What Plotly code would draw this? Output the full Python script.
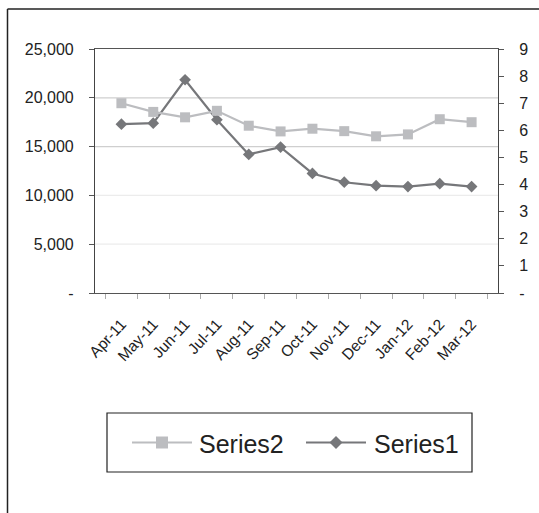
import plotly.graph_objects as go

# Monthly figures, Apr-11 to Mar-12
months = ["Apr-11", "May-11", "Jun-11", "Jul-11", "Aug-11", "Sep-11",
          "Oct-11", "Nov-11", "Dec-11", "Jan-12", "Feb-12", "Mar-12"]
series1 = [17300, 17400, 21850, 17750, 14200, 14950,
           12250, 11350, 11000, 10900, 11200, 10900]
series2 = [7.0, 6.68, 6.48, 6.72, 6.17, 5.96,
           6.06, 5.97, 5.78, 5.85, 6.41, 6.3]

left_ticks = [0, 5000, 10000, 15000, 20000, 25000]
left_labels = ["-", "5,000", "10,000", "15,000", "20,000", "25,000"]
right_ticks = list(range(0, 10))
right_labels = ["-"] + [str(v) for v in range(1, 10)]
grid_colors = {5000: "#ececec", 10000: "#ececec", 15000: "#cfcfcf", 20000: "#cfcfcf"}

c1, c2 = "#76777a", "#bcbdc0"

W, H = 539, 513
ML, MR, MT, MB = 95, 41, 49, 220
pw, ph = W - ML - MR, H - MT - MB


def px(x):
    """page pixel x -> paper x"""
    return (x - ML) / pw


def py(y):
    """page pixel y -> paper y"""
    return (H - MB - y) / ph


font = "Liberation Sans, Arial, sans-serif"

fig = go.Figure()
fig.add_trace(go.Scatter(
    x=months, y=series2, name="Series2", yaxis="y2", mode="lines+markers",
    line=dict(color=c2, width=2.2),
    marker=dict(symbol="square", size=10, color=c2),
))
fig.add_trace(go.Scatter(
    x=months, y=series1, name="Series1", yaxis="y", mode="lines+markers",
    line=dict(color=c1, width=2.2),
    marker=dict(symbol="diamond", size=9, color=c1),
))

# horizontal gridlines on the left scale
for v, c in grid_colors.items():
    fig.add_shape(type="line", xref="paper", yref="y", x0=0, x1=1, y0=v, y1=v,
                  line=dict(color=c, width=1.2), layer="below")

# outer chart frame (left and top edges)
fig.add_shape(type="line", xref="paper", yref="paper", x0=px(7.5), x1=px(7.5),
              y0=py(H + 5), y1=py(9), line=dict(color="#222222", width=1.5))
fig.add_shape(type="line", xref="paper", yref="paper", x0=px(7.5), x1=px(W + 5),
              y0=py(9), y1=py(9), line=dict(color="#222222", width=1.5))

# legend box with long line samples
ly = 442.5
fig.add_shape(type="rect", xref="paper", yref="paper", x0=px(107), x1=px(472),
              y0=py(472), y1=py(413), line=dict(color="#222222", width=1.2),
              fillcolor="white")
entries = [("Series2", c2, 132, 197), ("Series1", c1, 306, 372)]
for name, col, x0, tx in entries:
    fig.add_shape(type="line", xref="paper", yref="paper", x0=px(x0), x1=px(x0 + 60),
                  y0=py(ly), y1=py(ly), line=dict(color=col, width=2.2))
    fig.add_annotation(text=name, xref="paper", yref="paper", x=px(tx), y=py(ly + 1),
                       xanchor="left", yanchor="middle", showarrow=False,
                       font=dict(size=25, family=font, color="#222222"))
# legend marker glyphs
cx = 162
fig.add_shape(type="rect", xref="paper", yref="paper", x0=px(cx - 6), x1=px(cx + 6),
              y0=py(ly + 6), y1=py(ly - 6), line=dict(width=0), fillcolor=c2)
cx = 336
fig.add_shape(type="path", xref="paper", yref="paper",
              path=f"M {px(cx - 6.5)},{py(ly)} L {px(cx)},{py(ly - 6.5)} "
                   f"L {px(cx + 6.5)},{py(ly)} L {px(cx)},{py(ly + 6.5)} Z",
              line=dict(width=0), fillcolor=c1)

fig.update_layout(
    width=W, height=H,
    margin=dict(l=ML, r=MR, t=MT, b=MB),
    paper_bgcolor="white", plot_bgcolor="white",
    font=dict(family=font, color="#222222"),
    showlegend=False,
    xaxis=dict(
        type="category", tickangle=-47, tickson="boundaries",
        ticks="outside", ticklen=5, tickcolor="#aaaaaa",
        showline=True, linecolor="#555555", linewidth=1.2, mirror=True,
        showgrid=False, tickfont=dict(size=15.5, family=font, color="#222222"),
        ticklabelstandoff=15,
    ),
    yaxis=dict(
        range=[0, 25000], tickvals=left_ticks, ticktext=left_labels,
        ticks="outside", ticklen=5, tickcolor="#555555",
        showline=True, linecolor="#444444", linewidth=1.2,
        showgrid=False, zeroline=False,
        tickfont=dict(size=16, family=font, color="#222222"), ticklabelstandoff=12,
    ),
    yaxis2=dict(
        range=[0, 9], tickvals=right_ticks, ticktext=right_labels,
        overlaying="y", side="right",
        ticks="outside", ticklen=5, tickcolor="#555555",
        showline=True, linecolor="#444444", linewidth=1.2,
        showgrid=False, zeroline=False,
        tickfont=dict(size=16, family=font, color="#222222"), ticklabelstandoff=12,
    ),
)

fig.write_html("out.html")
